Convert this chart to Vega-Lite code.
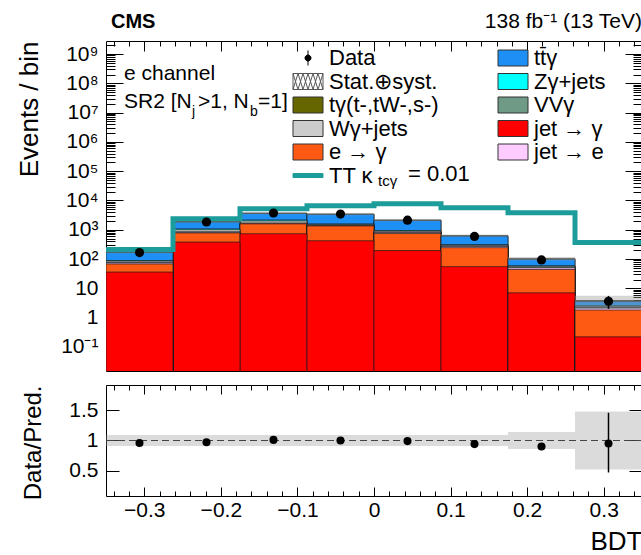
{
  "$schema": "https://vega.github.io/schema/vega-lite/v6.json",
  "autosize": {"type": "pad"},
  "padding": {"left": 15, "top": 10, "right": 0, "bottom": 0},
  "background": "white",
  "spacing": 12,
  "datasets": {
    "stack": [
      {"b":1,"lo":-0.35,"hi":-0.2625,"p":"tγ(t-,tW-,s-)","top":174},
      {"b":1,"lo":-0.35,"hi":-0.2625,"p":"tt̄γ","top":169},
      {"b":1,"lo":-0.35,"hi":-0.2625,"p":"Zγ+jets","top":89},
      {"b":1,"lo":-0.35,"hi":-0.2625,"p":"Wγ+jets","top":85},
      {"b":1,"lo":-0.35,"hi":-0.2625,"p":"VVγ","top":77},
      {"b":1,"lo":-0.35,"hi":-0.2625,"p":"jet → e","top":74},
      {"b":1,"lo":-0.35,"hi":-0.2625,"p":"e → γ","top":68},
      {"b":1,"lo":-0.35,"hi":-0.2625,"p":"jet → γ","top":36},
      {"b":2,"lo":-0.2625,"hi":-0.175,"p":"tγ(t-,tW-,s-)","top":1900},
      {"b":2,"lo":-0.2625,"hi":-0.175,"p":"tt̄γ","top":1850},
      {"b":2,"lo":-0.2625,"hi":-0.175,"p":"Zγ+jets","top":1070},
      {"b":2,"lo":-0.2625,"hi":-0.175,"p":"Wγ+jets","top":1000},
      {"b":2,"lo":-0.2625,"hi":-0.175,"p":"VVγ","top":850},
      {"b":2,"lo":-0.2625,"hi":-0.175,"p":"jet → e","top":820},
      {"b":2,"lo":-0.2625,"hi":-0.175,"p":"e → γ","top":780},
      {"b":2,"lo":-0.2625,"hi":-0.175,"p":"jet → γ","top":380},
      {"b":3,"lo":-0.175,"hi":-0.0875,"p":"tγ(t-,tW-,s-)","top":3700},
      {"b":3,"lo":-0.175,"hi":-0.0875,"p":"tt̄γ","top":3600},
      {"b":3,"lo":-0.175,"hi":-0.0875,"p":"Zγ+jets","top":2150},
      {"b":3,"lo":-0.175,"hi":-0.0875,"p":"Wγ+jets","top":2000},
      {"b":3,"lo":-0.175,"hi":-0.0875,"p":"VVγ","top":1700},
      {"b":3,"lo":-0.175,"hi":-0.0875,"p":"jet → e","top":1650},
      {"b":3,"lo":-0.175,"hi":-0.0875,"p":"e → γ","top":1590},
      {"b":3,"lo":-0.175,"hi":-0.0875,"p":"jet → γ","top":730},
      {"b":4,"lo":-0.0875,"hi":0,"p":"tγ(t-,tW-,s-)","top":3450},
      {"b":4,"lo":-0.0875,"hi":0,"p":"tt̄γ","top":3360},
      {"b":4,"lo":-0.0875,"hi":0,"p":"Zγ+jets","top":1580},
      {"b":4,"lo":-0.0875,"hi":0,"p":"Wγ+jets","top":1530},
      {"b":4,"lo":-0.0875,"hi":0,"p":"VVγ","top":1450},
      {"b":4,"lo":-0.0875,"hi":0,"p":"jet → e","top":1410},
      {"b":4,"lo":-0.0875,"hi":0,"p":"e → γ","top":1350},
      {"b":4,"lo":-0.0875,"hi":0,"p":"jet → γ","top":420},
      {"b":5,"lo":0,"hi":0.0875,"p":"tγ(t-,tW-,s-)","top":2150},
      {"b":5,"lo":0,"hi":0.0875,"p":"tt̄γ","top":2090},
      {"b":5,"lo":0,"hi":0.0875,"p":"Zγ+jets","top":940},
      {"b":5,"lo":0,"hi":0.0875,"p":"Wγ+jets","top":900},
      {"b":5,"lo":0,"hi":0.0875,"p":"VVγ","top":830},
      {"b":5,"lo":0,"hi":0.0875,"p":"jet → e","top":800},
      {"b":5,"lo":0,"hi":0.0875,"p":"e → γ","top":740},
      {"b":5,"lo":0,"hi":0.0875,"p":"jet → γ","top":195},
      {"b":6,"lo":0.0875,"hi":0.175,"p":"tγ(t-,tW-,s-)","top":630},
      {"b":6,"lo":0.0875,"hi":0.175,"p":"tt̄γ","top":610},
      {"b":6,"lo":0.0875,"hi":0.175,"p":"Zγ+jets","top":310},
      {"b":6,"lo":0.0875,"hi":0.175,"p":"Wγ+jets","top":300},
      {"b":6,"lo":0.0875,"hi":0.175,"p":"VVγ","top":280},
      {"b":6,"lo":0.0875,"hi":0.175,"p":"jet → e","top":270},
      {"b":6,"lo":0.0875,"hi":0.175,"p":"e → γ","top":245},
      {"b":6,"lo":0.0875,"hi":0.175,"p":"jet → γ","top":55},
      {"b":7,"lo":0.175,"hi":0.2625,"p":"tγ(t-,tW-,s-)","top":103},
      {"b":7,"lo":0.175,"hi":0.2625,"p":"tt̄γ","top":99},
      {"b":7,"lo":0.175,"hi":0.2625,"p":"Zγ+jets","top":59},
      {"b":7,"lo":0.175,"hi":0.2625,"p":"Wγ+jets","top":57},
      {"b":7,"lo":0.175,"hi":0.2625,"p":"VVγ","top":53},
      {"b":7,"lo":0.175,"hi":0.2625,"p":"jet → e","top":50},
      {"b":7,"lo":0.175,"hi":0.2625,"p":"e → γ","top":44},
      {"b":7,"lo":0.175,"hi":0.2625,"p":"jet → γ","top":7},
      {"b":8,"lo":0.2625,"hi":0.35,"p":"tγ(t-,tW-,s-)","top":3.8},
      {"b":8,"lo":0.2625,"hi":0.35,"p":"tt̄γ","top":3.62},
      {"b":8,"lo":0.2625,"hi":0.35,"p":"Zγ+jets","top":2.52},
      {"b":8,"lo":0.2625,"hi":0.35,"p":"Wγ+jets","top":2.42},
      {"b":8,"lo":0.2625,"hi":0.35,"p":"VVγ","top":2.22},
      {"b":8,"lo":0.2625,"hi":0.35,"p":"jet → e","top":2.12},
      {"b":8,"lo":0.2625,"hi":0.35,"p":"e → γ","top":1.82},
      {"b":8,"lo":0.2625,"hi":0.35,"p":"jet → γ","top":0.22}
    ],
    "unc": [
      {"lo":-0.35,"hi":-0.2625,"ul":158,"uh":190},
      {"lo":-0.2625,"hi":-0.175,"ul":1730,"uh":2070},
      {"lo":-0.175,"hi":-0.0875,"ul":3370,"uh":4030},
      {"lo":-0.0875,"hi":0,"ul":3140,"uh":3760},
      {"lo":0,"hi":0.0875,"ul":1960,"uh":2340},
      {"lo":0.0875,"hi":0.175,"ul":573,"uh":687},
      {"lo":0.175,"hi":0.2625,"ul":89,"uh":117},
      {"lo":0.2625,"hi":0.35,"ul":1.98,"uh":5.62}
    ],
    "signal": [
      {"x":-0.35,"s":210},
      {"x":-0.2625,"s":2400},
      {"x":-0.175,"s":5200},
      {"x":-0.0875,"s":6600},
      {"x":0,"s":7700},
      {"x":0.0875,"s":5600},
      {"x":0.175,"s":3800},
      {"x":0.2625,"s":365},
      {"x":0.35,"s":365}
    ],
    "obs": [
      {"c":-0.30625,"n":167,"el":155,"eh":180},
      {"c":-0.21875,"n":1843,"el":1800,"eh":1886},
      {"c":-0.13125,"n":3737,"el":3676,"eh":3798},
      {"c":-0.04375,"n":3450,"el":3390,"eh":3510},
      {"c":0.04375,"n":2129,"el":2083,"eh":2175},
      {"c":0.13125,"n":592,"el":568,"eh":616},
      {"c":0.21875,"n":93,"el":83,"eh":103},
      {"c":0.30625,"n":3.6,"el":2.0,"eh":5.5}
    ],
    "ratio": [
      {"c":-0.30625,"lo":-0.35,"hi":-0.2625,"r":0.96,"rl":0.94,"rh":0.98,"ul":0.91,"uh":1.09},
      {"c":-0.21875,"lo":-0.2625,"hi":-0.175,"r":0.97,"rl":0.95,"rh":0.99,"ul":0.91,"uh":1.09},
      {"c":-0.13125,"lo":-0.175,"hi":-0.0875,"r":1.01,"rl":0.99,"rh":1.03,"ul":0.91,"uh":1.09},
      {"c":-0.04375,"lo":-0.0875,"hi":0,"r":1.0,"rl":0.98,"rh":1.02,"ul":0.91,"uh":1.09},
      {"c":0.04375,"lo":0,"hi":0.0875,"r":0.99,"rl":0.97,"rh":1.01,"ul":0.91,"uh":1.09},
      {"c":0.13125,"lo":0.0875,"hi":0.175,"r":0.94,"rl":0.92,"rh":0.96,"ul":0.91,"uh":1.09},
      {"c":0.21875,"lo":0.175,"hi":0.2625,"r":0.9,"rl":0.86,"rh":0.94,"ul":0.86,"uh":1.14},
      {"c":0.30625,"lo":0.2625,"hi":0.35,"r":0.95,"rl":0.47,"rh":1.46,"ul":0.52,"uh":1.48}
    ]
  },
  "vconcat": [
    {
      "width": 536,
      "height": 330,
      "resolve": {"axis": {"x": "independent", "y": "independent"}},
      "layer": [
        {
          "data": {"name": "stack"},
          "mark": {"type": "bar", "clip": true, "stroke": "#1a1a1a", "strokeWidth": 0.7},
          "encoding": {
            "x": {"field": "lo", "type": "quantitative",
              "scale": {"domain": [-0.35, 0.35], "nice": false, "zero": false},
              "axis": {"orient": "bottom", "title": null, "labels": false,
                "values": [-0.34,-0.32,-0.3,-0.28,-0.26,-0.24,-0.22,-0.2,-0.18,-0.16,-0.14,-0.12,-0.1,-0.08,-0.06,-0.04,-0.02,0,0.02,0.04,0.06,0.08,0.1,0.12,0.14,0.16,0.18,0.2,0.22,0.24,0.26,0.28,0.3,0.32,0.34],
                "tickSize": {"condition": {"test": "abs(datum.value*10-round(datum.value*10))<0.001", "value": -10}, "value": -5}}},
            "x2": {"field": "hi"},
            "y": {"field": "top", "type": "quantitative",
              "scale": {"type": "log", "domain": [0.015, 2800000000], "nice": false},
              "axis": {"orient": "left", "title": "Events / bin", "titleFontSize": 26, "titleX": -77, "titleY": 0, "titleAlign": "right", "titleBaseline": "middle", "titleAngle": 270,
                "ticks": false, "tickSize": 0,
                "labelFontSize": 21, "labelPadding": 8, "labelOverlap": false, "labelBound": false, "labelFlush": false,
                "values": [0.1,1,10,100,1000,10000,100000,1000000,10000000,100000000,1000000000],
                "labelExpr": "round(log(datum.value)/LN10) == 0 ? '1' : round(log(datum.value)/LN10) == 1 ? '10' : round(log(datum.value)/LN10) == -1 ? '10⁻¹' : '10' + substring('⁰¹²³⁴⁵⁶⁷⁸⁹', round(log(datum.value)/LN10), round(log(datum.value)/LN10) + 1)"}},
            "y2": {"datum": 0.001},
            "order": {"field": "top", "sort": "descending"},
            "color": {"field": "p", "type": "nominal",
              "scale": {
                "domain": ["Data", "Stat.⊕syst.", "tγ(t-,tW-,s-)", "Wγ+jets", "e → γ", "TT κtcγ = 0.01", "tt̄γ", "Zγ+jets", "VVγ", "jet → γ", "jet → e"],
                "range": ["#000000", "#ffffff", "#666600", "#cccccc", "#ff5a14", "#1d9c9c", "#1e8ff5", "#00ffff", "#6f9a86", "#ff0000", "#ffccff"]},
              "legend": {"title": null, "orient": "none", "legendX": 191, "legendY": 6, "columns": 2, "columnPadding": 57, "rowPadding": 1.5, "symbolSize": 400, "symbolStrokeWidth": 1, "symbolOpacity": 1, "labelFont": "Liberation Sans", "labelFontSize": 22, "labelColor": "#000", "labelOffset": 10, "labelLimit": 400,
                "labelExpr": "datum.value == 'TT κtcγ = 0.01' ? 'TT  κ' : datum.label"}}
          }
        },
        {
          "data": {"name": "stack"},
          "mark": {"type": "point", "filled": true, "opacity": 0, "strokeWidth": 1},
          "encoding": {
            "x": {"field": "lo", "type": "quantitative", "axis": null},
            "y": {"field": "top", "type": "quantitative", "axis": null},
            "color": {"field": "p", "type": "nominal",
              "legend": {"title": null, "orient": "none", "legendX": 191, "legendY": 6, "columns": 2, "columnPadding": 57, "rowPadding": 1.5, "symbolSize": 400, "symbolStrokeWidth": 1, "symbolOpacity": 1, "labelFont": "Liberation Sans", "labelFontSize": 22, "labelColor": "#000", "labelOffset": 10, "labelLimit": 400,
                "labelExpr": "datum.value == 'TT κtcγ = 0.01' ? 'TT  κ' : datum.label"}},
            "stroke": {"field": "p", "type": "nominal",
              "scale": {
                "domain": ["Data", "Stat.⊕syst.", "tγ(t-,tW-,s-)", "Wγ+jets", "e → γ", "TT κtcγ = 0.01", "tt̄γ", "Zγ+jets", "VVγ", "jet → γ", "jet → e"],
                "range": ["#000000", "#555555", "#333333", "#333333", "#333333", "#1d9c9c", "#333333", "#333333", "#333333", "#333333", "#333333"]},
              "legend": {"title": null, "orient": "none", "legendX": 191, "legendY": 6, "columns": 2, "columnPadding": 57, "rowPadding": 1.5, "symbolSize": 400, "symbolStrokeWidth": 1, "symbolOpacity": 1, "labelFont": "Liberation Sans", "labelFontSize": 22, "labelColor": "#000", "labelOffset": 10, "labelLimit": 400,
                "labelExpr": "datum.value == 'TT κtcγ = 0.01' ? 'TT  κ' : datum.label"}},
            "shape": {"field": "p", "type": "nominal",
              "scale": {
                "domain": ["Data", "Stat.⊕syst.", "tγ(t-,tW-,s-)", "Wγ+jets", "e → γ", "TT κtcγ = 0.01", "tt̄γ", "Zγ+jets", "VVγ", "jet → γ", "jet → e"],
                "range": [
                  "M0,-0.75V0.75M0.3,0A0.3,0.3,0,1,1,-0.3,0A0.3,0.3,0,1,1,0.3,0Z",
                  "M-1.5,-0.8H1.5V0.8H-1.5Z M-1.5,-0.8L-1,0.8L-0.5,-0.8L0,0.8L0.5,-0.8L1,0.8L1.5,-0.8 M-1.5,0.8L-1,-0.8L-0.5,0.8L0,-0.8L0.5,0.8L1,-0.8L1.5,0.8",
                  "M-1.5,-0.8H1.5V0.8H-1.5Z",
                  "M-1.5,-0.8H1.5V0.8H-1.5Z",
                  "M-1.5,-0.8H1.5V0.8H-1.5Z",
                  "M-1.5,-0.2H1.5V0.2H-1.5Z",
                  "M-1.5,-0.8H1.5V0.8H-1.5Z",
                  "M-1.5,-0.8H1.5V0.8H-1.5Z",
                  "M-1.5,-0.8H1.5V0.8H-1.5Z",
                  "M-1.5,-0.8H1.5V0.8H-1.5Z",
                  "M-1.5,-0.8H1.5V0.8H-1.5Z"]},
              "legend": {"title": null, "orient": "none", "legendX": 191, "legendY": 6, "columns": 2, "columnPadding": 57, "rowPadding": 1.5, "symbolSize": 400, "symbolStrokeWidth": 1, "symbolOpacity": 1, "labelFont": "Liberation Sans", "labelFontSize": 22, "labelColor": "#000", "labelOffset": 10, "labelLimit": 400,
                "labelExpr": "datum.value == 'TT κtcγ = 0.01' ? 'TT  κ' : datum.label"}}
          }
        },
        {
          "data": {"name": "unc"},
          "mark": {"type": "rect", "fill": "#999999", "fillOpacity": 0.4, "clip": true},
          "encoding": {
            "x": {"field": "lo", "type": "quantitative",
              "scale": {"domain": [-0.35, 0.35], "nice": false, "zero": false},
              "axis": {"orient": "top", "title": null, "labels": false,
                "values": [-0.34,-0.32,-0.3,-0.28,-0.26,-0.24,-0.22,-0.2,-0.18,-0.16,-0.14,-0.12,-0.1,-0.08,-0.06,-0.04,-0.02,0,0.02,0.04,0.06,0.08,0.1,0.12,0.14,0.16,0.18,0.2,0.22,0.24,0.26,0.28,0.3,0.32,0.34],
                "tickSize": {"condition": {"test": "abs(datum.value*10-round(datum.value*10))<0.001", "value": -10}, "value": -5}}},
            "x2": {"field": "hi"},
            "y": {"field": "ul", "type": "quantitative",
              "scale": {"type": "log", "domain": [0.015, 2800000000], "nice": false},
              "axis": {"orient": "right", "title": null, "labels": false,
                "values": [0.02,0.03,0.04,0.05,0.06,0.07,0.08,0.09,0.1,0.2,0.3,0.4,0.5,0.6,0.7,0.8,0.9,1,2,3,4,5,6,7,8,9,10,20,30,40,50,60,70,80,90,100,200,300,400,500,600,700,800,900,1000,2000,3000,4000,5000,6000,7000,8000,9000,10000,20000,30000,40000,50000,60000,70000,80000,90000,100000,200000,300000,400000,500000,600000,700000,800000,900000,1000000,2000000,3000000,4000000,5000000,6000000,7000000,8000000,9000000,10000000,20000000,30000000,40000000,50000000,60000000,70000000,80000000,90000000,100000000,200000000,300000000,400000000,500000000,600000000,700000000,800000000,900000000,1000000000,2000000000],
                "tickSize": {"condition": {"test": "abs(log(datum.value)/LN10 - round(log(datum.value)/LN10)) < 0.001", "value": -17}, "value": -9}}},
            "y2": {"field": "uh"}
          }
        },
        {
          "data": {"name": "signal"},
          "mark": {"type": "line", "interpolate": "step-after", "color": "#1d9c9c", "strokeWidth": 5, "clip": true},
          "encoding": {
            "x": {"field": "x", "type": "quantitative", "axis": null},
            "y": {"field": "s", "type": "quantitative",
              "axis": {"orient": "left", "title": null, "labels": false,
                "values": [0.02,0.03,0.04,0.05,0.06,0.07,0.08,0.09,0.1,0.2,0.3,0.4,0.5,0.6,0.7,0.8,0.9,1,2,3,4,5,6,7,8,9,10,20,30,40,50,60,70,80,90,100,200,300,400,500,600,700,800,900,1000,2000,3000,4000,5000,6000,7000,8000,9000,10000,20000,30000,40000,50000,60000,70000,80000,90000,100000,200000,300000,400000,500000,600000,700000,800000,900000,1000000,2000000,3000000,4000000,5000000,6000000,7000000,8000000,9000000,10000000,20000000,30000000,40000000,50000000,60000000,70000000,80000000,90000000,100000000,200000000,300000000,400000000,500000000,600000000,700000000,800000000,900000000,1000000000,2000000000],
                "tickSize": {"condition": {"test": "abs(log(datum.value)/LN10 - round(log(datum.value)/LN10)) < 0.001", "value": -17}, "value": -9}}}
          }
        },
        {
          "data": {"name": "obs"},
          "mark": {"type": "rule", "color": "#000", "strokeWidth": 1.5},
          "encoding": {
            "x": {"field": "c", "type": "quantitative", "axis": null},
            "y": {"field": "el", "type": "quantitative", "axis": null},
            "y2": {"field": "eh"}
          }
        },
        {
          "data": {"name": "obs"},
          "mark": {"type": "point", "shape": "circle", "filled": true, "color": "#000", "size": 85, "opacity": 1},
          "encoding": {
            "x": {"field": "c", "type": "quantitative", "axis": null},
            "y": {"field": "n", "type": "quantitative", "axis": null}
          }
        },
        {
          "data": {"values": [{}]},
          "mark": {"type": "text", "align": "left", "baseline": "middle", "fontSize": 20, "fontWeight": "bold", "font": "Liberation Sans", "color": "#000", "dx": 5},
          "encoding": {"x": {"datum": -0.35, "axis": null}, "y": {"datum": 12500000000, "axis": null}, "text": {"value": "CMS"}}
        },
        {
          "data": {"values": [{}]},
          "mark": {"type": "text", "align": "right", "baseline": "middle", "fontSize": 21, "font": "Liberation Sans", "color": "#000"},
          "encoding": {"x": {"datum": 0.35, "axis": null}, "y": {"datum": 12500000000, "axis": null}, "text": {"value": "138 fb⁻¹ (13 TeV)"}}
        },
        {
          "data": {"values": [{}]},
          "mark": {"type": "text", "align": "left", "baseline": "middle", "fontSize": 21, "font": "Liberation Sans", "color": "#000"},
          "encoding": {"x": {"datum": -0.3265, "axis": null}, "y": {"datum": 217000000, "axis": null}, "text": {"value": "e channel"}}
        },
        {
          "data": {"values": [{}]},
          "mark": {"type": "text", "align": "left", "baseline": "middle", "fontSize": 21, "font": "Liberation Sans", "color": "#000"},
          "encoding": {"x": {"datum": -0.3265, "axis": null}, "y": {"datum": 23000000, "axis": null}, "text": {"value": "SR2 [N"}}
        },
        {
          "data": {"values": [{}]},
          "mark": {"type": "text", "align": "left", "baseline": "middle", "fontSize": 14, "font": "Liberation Sans", "color": "#000", "dx": 68, "dy": 10},
          "encoding": {"x": {"datum": -0.3265, "axis": null}, "y": {"datum": 23000000, "axis": null}, "text": {"value": "j"}}
        },
        {
          "data": {"values": [{}]},
          "mark": {"type": "text", "align": "left", "baseline": "middle", "fontSize": 21, "font": "Liberation Sans", "color": "#000", "dx": 74},
          "encoding": {"x": {"datum": -0.3265, "axis": null}, "y": {"datum": 23000000, "axis": null}, "text": {"value": ">1, N"}}
        },
        {
          "data": {"values": [{}]},
          "mark": {"type": "text", "align": "left", "baseline": "middle", "fontSize": 14, "font": "Liberation Sans", "color": "#000", "dx": 126, "dy": 10},
          "encoding": {"x": {"datum": -0.3265, "axis": null}, "y": {"datum": 23000000, "axis": null}, "text": {"value": "b"}}
        },
        {
          "data": {"values": [{}]},
          "mark": {"type": "text", "align": "left", "baseline": "middle", "fontSize": 21, "font": "Liberation Sans", "color": "#000", "dx": 134},
          "encoding": {"x": {"datum": -0.3265, "axis": null}, "y": {"datum": 23000000, "axis": null}, "text": {"value": "=1]"}}
        },
        {
          "data": {"values": [{}]},
          "mark": {"type": "text", "align": "left", "baseline": "middle", "fontSize": 15, "font": "Liberation Sans", "color": "#000"},
          "encoding": {"x": {"datum": 0.0052, "axis": null}, "y": {"datum": 47400, "axis": null}, "text": {"value": "tcγ"}}
        },
        {
          "data": {"values": [{}]},
          "mark": {"type": "text", "align": "left", "baseline": "middle", "fontSize": 22, "font": "Liberation Sans", "color": "#000"},
          "encoding": {"x": {"datum": 0.0444, "axis": null}, "y": {"datum": 82000, "axis": null}, "text": {"value": "= 0.01"}}
        }
      ]
    },
    {
      "width": 536,
      "height": 111,
      "data": {"name": "ratio"},
      "resolve": {"axis": {"x": "independent", "y": "independent"}},
      "layer": [
        {
          "mark": {"type": "rect", "fill": "#999999", "fillOpacity": 0.35, "clip": true},
          "encoding": {
            "x": {"field": "lo", "type": "quantitative",
              "scale": {"domain": [-0.35, 0.35], "nice": false, "zero": false},
              "axis": {"orient": "bottom", "title": "BDT", "titleFontSize": 26, "titleAnchor": "end", "titlePadding": 8,
                "ticks": false, "tickSize": 0,
                "labelFontSize": 21, "labelPadding": 3, "labelOverlap": false, "labelBound": false, "labelFlush": false,
                "values": [-0.3,-0.2,-0.1,0,0.1,0.2,0.3],
                "labelExpr": "abs(datum.value)<0.001 ? '0' : format(datum.value, '.1f')"}},
            "x2": {"field": "hi"},
            "y": {"field": "ul", "type": "quantitative",
              "scale": {"domain": [0.08, 1.92], "nice": false, "zero": false},
              "axis": {"orient": "left", "title": "Data/Pred.", "titleFontSize": 24, "titleX": -73, "titleY": 0, "titleAlign": "right", "titleBaseline": "middle", "titleAngle": 270,
                "ticks": false, "tickSize": 0,
                "labelFontSize": 21, "labelPadding": 8, "labelOverlap": false, "labelBound": false, "labelFlush": false,
                "values": [0.5, 1, 1.5], "format": "~g"}},
            "y2": {"field": "uh"}
          }
        },
        {
          "mark": {"type": "rule", "color": "#444", "strokeWidth": 1, "strokeDash": [7, 4]},
          "encoding": {"y": {"datum": 1, "axis": null}}
        },
        {
          "mark": {"type": "rule", "color": "#000", "strokeWidth": 1.5},
          "encoding": {
            "x": {"field": "c", "type": "quantitative",
              "axis": {"orient": "top", "title": null, "labels": false,
                "values": [-0.34,-0.32,-0.3,-0.28,-0.26,-0.24,-0.22,-0.2,-0.18,-0.16,-0.14,-0.12,-0.1,-0.08,-0.06,-0.04,-0.02,0,0.02,0.04,0.06,0.08,0.1,0.12,0.14,0.16,0.18,0.2,0.22,0.24,0.26,0.28,0.3,0.32,0.34],
                "tickSize": {"condition": {"test": "abs(datum.value*10-round(datum.value*10))<0.001", "value": -9}, "value": -5}}},
            "y": {"field": "rl", "type": "quantitative",
              "axis": {"orient": "right", "title": null, "labels": false, "values": [0.5, 1, 1.5], "tickSize": -13}},
            "y2": {"field": "rh"}
          }
        },
        {
          "mark": {"type": "point", "shape": "circle", "filled": true, "color": "#000", "size": 65, "opacity": 1},
          "encoding": {
            "x": {"field": "c", "type": "quantitative",
              "axis": {"orient": "bottom", "title": null, "labels": false,
                "values": [-0.34,-0.32,-0.3,-0.28,-0.26,-0.24,-0.22,-0.2,-0.18,-0.16,-0.14,-0.12,-0.1,-0.08,-0.06,-0.04,-0.02,0,0.02,0.04,0.06,0.08,0.1,0.12,0.14,0.16,0.18,0.2,0.22,0.24,0.26,0.28,0.3,0.32,0.34],
                "tickSize": {"condition": {"test": "abs(datum.value*10-round(datum.value*10))<0.001", "value": -9}, "value": -5}}},
            "y": {"field": "r", "type": "quantitative",
              "axis": {"orient": "left", "title": null, "labels": false, "values": [0.5, 1, 1.5], "tickSize": -13}}
          }
        }
      ]
    }
  ],
  "config": {
    "font": "Liberation Sans",
    "view": {"stroke": "#000", "strokeWidth": 1},
    "axis": {"domain": false, "grid": false, "tickColor": "#000", "tickWidth": 1, "labelFont": "Liberation Sans", "titleFont": "Liberation Sans", "labelColor": "#000", "titleColor": "#000", "titleFontWeight": "normal"}
  }
}
